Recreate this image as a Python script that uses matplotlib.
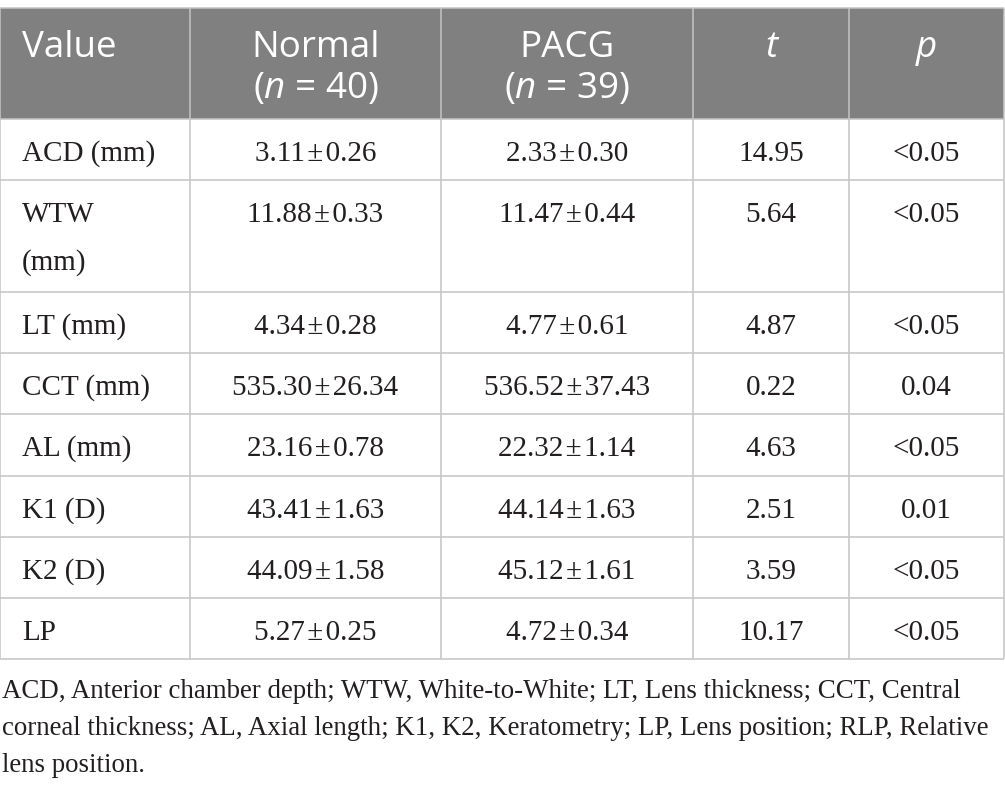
import matplotlib
matplotlib.use("Agg")
import matplotlib.pyplot as plt
from matplotlib.patches import Rectangle

# ---------------- data ----------------
header_top = ["Value", "Normal", "PACG", "t", "p"]
header_sub = ["", "($\\mathit{n}$ = 40)", "($\\mathit{n}$ = 39)", "", ""]
row_labels = ["ACD (mm)", "WTW\n(mm)", "LT (mm)", "CCT (mm)", "AL (mm)",
              "K1 (D)", "K2 (D)", "LP"]
normal_mean = ["3.11", "11.88", "4.34", "535.30", "23.16", "43.41", "44.09", "5.27"]
normal_sd = ["0.26", "0.33", "0.28", "26.34", "0.78", "1.63", "1.58", "0.25"]
pacg_mean = ["2.33", "11.47", "4.77", "536.52", "22.32", "44.14", "45.12", "4.72"]
pacg_sd = ["0.30", "0.44", "0.61", "37.43", "1.14", "1.63", "1.61", "0.34"]
t_vals = ["14.95", "5.64", "4.87", "0.22", "4.63", "2.51", "3.59", "10.17"]
p_vals = ["<0.05", "<0.05", "<0.05", "0.04", "<0.05", "0.01", "<0.05", "<0.05"]
footnote_lines = [
    "ACD, Anterior chamber depth; WTW, White-to-White; LT, Lens thickness; CCT, Central",
    "corneal thickness; AL, Axial length; K1, K2, Keratometry; LP, Lens position; RLP, Relative",
    "lens position.",
]

# ---------------- style ----------------
plt.rcParams["mathtext.fontset"] = "custom"
plt.rcParams["mathtext.rm"] = "Open Sans"
plt.rcParams["mathtext.it"] = "Open Sans:italic"

W, H = 1005, 791
col_edges = [0, 190, 441, 693, 849, 1004]
row_edges = [8, 119, 180, 292, 353, 414, 476, 537, 598, 659]
header_bg = "#808080"
grid_col = "#c4c4c4"
text_col = "#231f20"
serif = "Liberation Serif"
sans = "Open Sans"
body_fs = 21
head_fs = 26.5
foot_fs = 19.4
pm = "\u200a±\u200a"

fig = plt.figure(figsize=(W / 100, H / 100), dpi=100)
ax = fig.add_axes([0, 0, 1, 1])
ax.set_xlim(0, W)
ax.set_ylim(H, 0)
ax.axis("off")

# header background
ax.add_patch(Rectangle((col_edges[0], row_edges[0]), col_edges[-1] - col_edges[0],
                       row_edges[1] - row_edges[0], facecolor=header_bg,
                       edgecolor="none", zorder=1))

# grid lines
for y in row_edges:
    ax.plot([col_edges[0], col_edges[-1]], [y, y], color=grid_col, lw=1.1, zorder=2,
            solid_capstyle="butt")
for x in col_edges:
    ax.plot([x, x], [row_edges[0], row_edges[-1]], color=grid_col, lw=1.1, zorder=2,
            solid_capstyle="butt")

centers = [(col_edges[i] + col_edges[i + 1]) / 2 for i in range(len(col_edges) - 1)]

# header text
hb1 = 57
hb2 = 98
for i, (top, sub) in enumerate(zip(header_top, header_sub)):
    style = "italic" if top in ("t", "p") else "normal"
    if i == 0:
        ax.text(22, hb1, top, ha="left", va="baseline", color="white",
                fontsize=head_fs, family=sans, zorder=3)
    else:
        ax.text(centers[i], hb1, top, ha="center", va="baseline", color="white",
                fontsize=head_fs, family=sans, style=style, zorder=3)
    if sub:
        ax.text(centers[i], hb2, sub, ha="center", va="baseline", color="white",
                fontsize=head_fs, family=sans, zorder=3)

# body
normal_vals = [m + pm + s for m, s in zip(normal_mean, normal_sd)]
pacg_vals = [m + pm + s for m, s in zip(pacg_mean, pacg_sd)]
line_gap = 48
for r in range(len(row_labels)):
    base = row_edges[r + 1] + 42
    for k, line in enumerate(row_labels[r].split("\n")):
        ax.text(22, base + k * line_gap, line, ha="left", va="baseline",
                color=text_col, fontsize=body_fs, family=serif, zorder=3)
    for c, vals in zip(range(1, 5), [normal_vals, pacg_vals, t_vals, p_vals]):
        ax.text(centers[c], base, vals[r], ha="center", va="baseline",
                color=text_col, fontsize=body_fs, family=serif, zorder=3)

# footnote
for k, line in enumerate(footnote_lines):
    ax.text(2, 698 + k * 37, line, ha="left", va="baseline", color=text_col,
            fontsize=foot_fs, family=serif)

fig.savefig("out.png", dpi=100, facecolor="white")
